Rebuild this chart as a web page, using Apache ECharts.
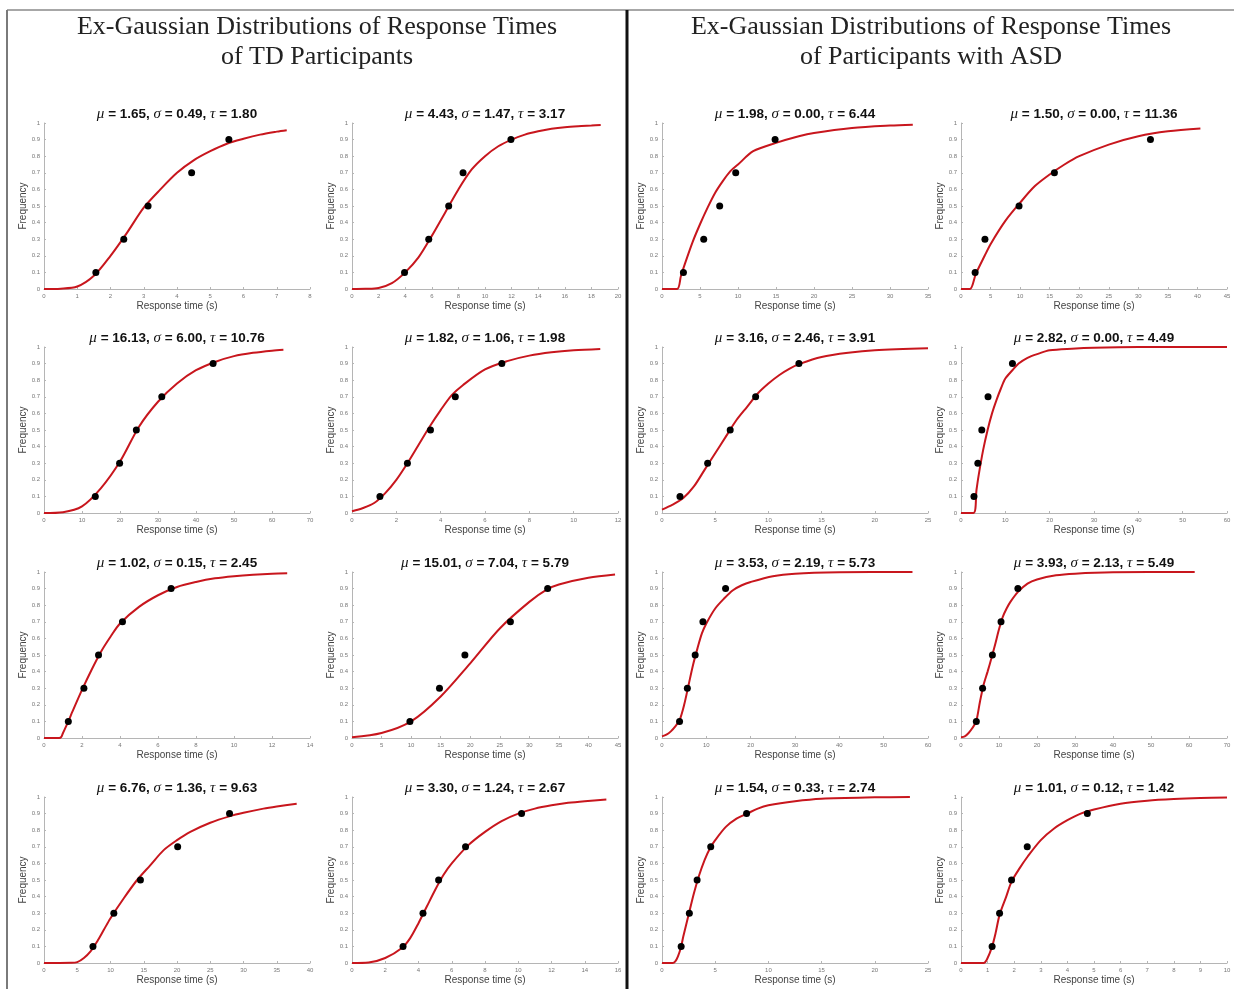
<!DOCTYPE html>
<html>
<head>
<meta charset="utf-8">
<script src="https://cdn.jsdelivr.net/npm/echarts@6/dist/echarts.min.js"></script>
<style>
  html, body { margin: 0; padding: 0; background: #fff; }
  #main { width: 1234px; height: 989px; }
</style>
</head>
<body>
<div id="main"></div>
<script>
// panel headings
var tdHeading = ['Ex-Gaussian Distributions of Response Times', 'of TD Participants'];
var asdHeading = ['Ex-Gaussian Distributions of Response Times', 'of Participants with ASD'];

// fitted parameters, TD 1-8 then ASD 1-8 (row by row)
var muVals = [1.65, 4.43, 16.13, 1.82, 1.02, 15.01, 6.76, 3.30, 1.98, 1.50, 3.16, 2.82, 3.53, 3.93, 1.54, 1.01];
var sigmaVals = [0.49, 1.47, 6.00, 1.06, 0.15, 7.04, 1.36, 1.24, 0.00, 0.00, 2.46, 0.00, 2.19, 2.13, 0.33, 0.12];
var tauVals = [1.80, 3.17, 10.76, 1.98, 2.45, 5.79, 9.63, 2.67, 6.44, 11.36, 3.91, 4.49, 5.73, 5.49, 2.74, 1.42];

// x axis range / tick step per subplot
var xMaxVals = [8, 20, 70, 12, 14, 45, 40, 16, 35, 45, 25, 60, 60, 70, 25, 10];
var xStepVals = [1, 2, 10, 2, 2, 5, 5, 2, 5, 5, 5, 10, 10, 10, 5, 1];

// observed quantiles (frequency levels) and their response times
var freqLevels = [0.1, 0.3, 0.5, 0.7, 0.9];
var obsTD1 = [1.56, 2.40, 3.13, 4.44, 5.56];
var obsTD2 = [3.95, 5.77, 7.27, 8.35, 11.95];
var obsTD3 = [13.5, 19.9, 24.3, 31.0, 44.5];
var obsTD4 = [1.26, 2.50, 3.54, 4.66, 6.76];
var obsTD5 = [1.28, 2.10, 2.87, 4.13, 6.69];
var obsTD6 = [9.8, 14.8, 19.1, 26.8, 33.1];
var obsTD7 = [7.36, 10.5, 14.5, 20.1, 27.9];
var obsTD8 = [3.07, 4.27, 5.21, 6.83, 10.2];
var obsASD1 = [2.82, 5.49, 7.59, 9.70, 14.88];
var obsASD2 = [2.39, 4.05, 9.82, 15.8, 32.05];
var obsASD3 = [1.69, 4.29, 6.41, 8.8, 12.87];
var obsASD4 = [2.92, 3.8, 4.69, 6.1, 11.6];
var obsASD5 = [3.96, 5.72, 7.48, 9.23, 14.34];
var obsASD6 = [4.03, 5.68, 8.26, 10.53, 14.97];
var obsASD7 = [1.8, 2.57, 3.3, 4.58, 7.95];
var obsASD8 = [1.17, 1.45, 1.9, 2.49, 4.75];

// fitted curves as [time, frequency]
var fitTD1 = [[0,0],[0.5,0.002],[1,0.015],[1.5,0.08],[2,0.2],[2.5,0.34],[3,0.49],[3.5,0.6],[4,0.7],[4.5,0.775],[5,0.83],[5.5,0.875],[6,0.905],[6.5,0.93],[7,0.948],[7.3,0.957]];
var fitTD2 = [[0,0],[1,0.001],[2,0.006],[3,0.035],[4,0.1],[5,0.19],[6,0.32],[7,0.46],[8,0.6],[9,0.72],[10,0.8],[11,0.86],[12,0.9],[13,0.93],[14,0.95],[15,0.965],[16,0.975],[17,0.981],[18,0.985],[18.7,0.988]];
var fitTD3 = [[0,0],[5,0.005],[10,0.04],[15,0.15],[20,0.31],[25,0.52],[30,0.67],[35,0.78],[40,0.86],[45,0.91],[50,0.945],[55,0.965],[60,0.978],[63,0.983]];
var fitTD4 = [[0,0.01],[0.5,0.03],[1,0.06],[1.5,0.12],[2,0.2],[2.5,0.3],[3,0.41],[3.5,0.52],[4,0.62],[4.5,0.71],[5,0.77],[6,0.865],[7,0.915],[8,0.948],[9,0.968],[10,0.98],[11.2,0.988]];
var fitTD5 = [[0,0],[0.8,0],[0.9,0.005],[1,0.03],[1.28,0.1],[1.5,0.16],[2,0.29],[2.5,0.41],[3,0.52],[3.5,0.61],[4,0.69],[5,0.79],[6,0.86],[7,0.91],[8,0.94],[9,0.962],[10,0.975],[11,0.984],[12,0.99],[12.8,0.992]];
var fitTD6 = [[0,0.005],[5,0.03],[10,0.1],[15,0.25],[20,0.45],[25,0.66],[30,0.82],[33,0.895],[35,0.925],[40,0.965],[44.5,0.985]];
var fitTD7 = [[0,0],[4,0.001],[5,0.005],[6,0.03],[7,0.07],[8,0.13],[9,0.2],[10,0.27],[12,0.39],[14,0.5],[16,0.59],[18,0.68],[20,0.74],[22,0.79],[25,0.845],[28,0.885],[30,0.905],[33,0.93],[35,0.943],[38,0.96]];
var fitTD8 = [[0,0],[1,0.003],[2,0.03],[3,0.09],[3.5,0.15],[4,0.24],[4.5,0.34],[5,0.44],[5.5,0.53],[6,0.6],[7,0.71],[8,0.79],[9,0.855],[10,0.9],[11,0.93],[12,0.95],[13,0.965],[14,0.975],[15.3,0.985]];
var fitASD1 = [[0,0],[1.98,0],[2.5,0.08],[3,0.15],[4,0.28],[5,0.39],[6,0.49],[7,0.58],[8,0.65],[9,0.71],[10,0.75],[12,0.83],[15,0.88],[18,0.92],[20,0.94],[25,0.97],[30,0.985],[33,0.99]];
var fitASD2 = [[0,0],[1.5,0],[2.5,0.09],[4,0.2],[5,0.27],[7.5,0.41],[10,0.52],[12.5,0.62],[15,0.69],[17.5,0.75],[20,0.8],[25,0.87],[30,0.92],[35,0.95],[40.5,0.967]];
var fitASD3 = [[0,0.02],[1,0.05],[2,0.09],[3,0.16],[4,0.26],[5,0.36],[6,0.46],[7,0.56],[8,0.64],[9,0.72],[10,0.78],[11,0.83],[12,0.87],[13,0.9],[15,0.94],[17.5,0.965],[20,0.98],[25,0.992]];
var fitASD4 = [[0,0],[2.82,0],[3.5,0.14],[4,0.23],[5,0.38],[6,0.5],[7,0.6],[8,0.68],[9,0.75],[10,0.81],[11.6,0.86],[13,0.9],[15,0.935],[17.5,0.96],[20,0.98],[25,0.99],[30,0.996],[40,1],[60,1]];
var fitASD5 = [[0,0.01],[1,0.02],[2,0.04],[3,0.07],[4,0.11],[5,0.2],[6,0.32],[7,0.44],[8,0.54],[9,0.63],[10,0.69],[12,0.78],[14,0.84],[16,0.89],[18,0.92],[20,0.94],[25,0.975],[30,0.99],[40,0.998],[56.5,1]];
var fitASD6 = [[0,0.005],[1,0.01],[2,0.03],[3,0.06],[4,0.1],[5,0.22],[6,0.325],[7,0.4],[8,0.48],[9,0.565],[10,0.655],[11,0.73],[12,0.78],[13,0.82],[15,0.88],[17.5,0.93],[20,0.955],[25,0.98],[30,0.99],[40,0.998],[61.5,1]];
var fitASD7 = [[0,0],[1,0],[1.25,0.01],[1.5,0.04],[1.8,0.1],[2,0.16],[2.5,0.29],[3,0.42],[3.5,0.53],[4,0.62],[4.5,0.69],[5,0.74],[6,0.82],[7,0.87],[8,0.9],[9,0.93],[10,0.95],[12.5,0.975],[15,0.99],[20,0.998],[23.3,1]];
var fitASD8 = [[0,0],[0.85,0],[1,0.03],[1.17,0.1],[1.3,0.18],[1.45,0.29],[1.7,0.4],[1.9,0.49],[2.2,0.57],[2.5,0.64],[3,0.74],[3.5,0.81],[4,0.86],[4.5,0.9],[5,0.925],[6,0.96],[7,0.978],[8,0.988],[9,0.994],[10,0.997]];

var obsList = [obsTD1, obsTD2, obsTD3, obsTD4, obsTD5, obsTD6, obsTD7, obsTD8,
  obsASD1, obsASD2, obsASD3, obsASD4, obsASD5, obsASD6, obsASD7, obsASD8];
var fitList = [fitTD1, fitTD2, fitTD3, fitTD4, fitTD5, fitTD6, fitTD7, fitTD8,
  fitASD1, fitASD2, fitASD3, fitASD4, fitASD5, fitASD6, fitASD7, fitASD8];

var myechart = echarts.init(document.getElementById('main'));

var colLeft = [44, 352, 662, 961];
var rowTop = [123, 347, 572, 797];
var plotW = 266, plotH = 166;
var sans = 'Liberation Sans, Arial, sans-serif';
var serif = 'Liberation Serif, Times New Roman, serif';

var grids = [], xAxes = [], yAxes = [], series = [], titles = [];

titles.push({
  text: tdHeading.join('\n'), left: 317, top: 12, textAlign: 'center', padding: 0,
  textStyle: { fontFamily: serif, fontSize: 26, fontWeight: 'normal', color: '#222', lineHeight: 30 }
});
titles.push({
  text: asdHeading.join('\n'), left: 931, top: 12, textAlign: 'center', padding: 0,
  textStyle: { fontFamily: serif, fontSize: 26, fontWeight: 'normal', color: '#222', lineHeight: 30 }
});

for (var i = 0; i < 16; i++) {
  var group = i < 8 ? 0 : 1;
  var k = i % 8;
  var row = Math.floor(k / 2);
  var col = group * 2 + (k % 2);
  var gLeft = colLeft[col], gTop = rowTop[row];

  grids.push({ left: gLeft, top: gTop, width: plotW, height: plotH });

  titles.push({
    text: '{g|\u03bc} = ' + muVals[i].toFixed(2) + ', {g|\u03c3} = ' + sigmaVals[i].toFixed(2) +
      ', {g|\u03c4} = ' + tauVals[i].toFixed(2),
    left: gLeft + plotW / 2, top: gTop - 16, textAlign: 'center', padding: 0,
    textStyle: {
      fontFamily: sans, fontSize: 13.5, fontWeight: 'bold', color: '#111',
      rich: { g: { fontFamily: serif, fontStyle: 'italic', fontSize: 15, fontWeight: 'normal', color: '#111' } }
    }
  });

  xAxes.push({
    gridIndex: i, type: 'value', min: 0, max: xMaxVals[i], interval: xStepVals[i],
    name: 'Response time (s)', nameLocation: 'middle', nameGap: 12,
    nameTextStyle: { fontFamily: sans, fontSize: 10, color: '#444' },
    axisLine: { lineStyle: { color: '#b5b5b5', width: 1 } },
    axisTick: { inside: true, length: 2, lineStyle: { color: '#b5b5b5' } },
    axisLabel: { fontFamily: sans, fontSize: 6, color: '#777', margin: 4 },
    splitLine: { show: false }
  });
  yAxes.push({
    gridIndex: i, type: 'value', min: 0, max: 1, interval: 0.1,
    name: 'Frequency', nameLocation: 'middle', nameGap: 11,
    nameTextStyle: { fontFamily: sans, fontSize: 10, color: '#444' },
    axisLine: { show: true, lineStyle: { color: '#b5b5b5', width: 1 } },
    axisTick: { show: true, inside: true, length: 2, lineStyle: { color: '#b5b5b5' } },
    axisLabel: {
      fontFamily: sans, fontSize: 6, color: '#777', margin: 4,
      formatter: function (v) { return (v === 0 || v === 1) ? String(v) : v.toFixed(1); }
    },
    splitLine: { show: false }
  });

  series.push({
    type: 'line', xAxisIndex: i, yAxisIndex: i, data: fitList[i],
    showSymbol: false, smooth: 0.3,
    lineStyle: { color: '#c8161d', width: 2 }, z: 2
  });
  series.push({
    type: 'scatter', xAxisIndex: i, yAxisIndex: i,
    data: obsList[i].map(function (x, j) { return [x, freqLevels[j]]; }),
    symbolSize: 7, itemStyle: { color: '#000', opacity: 1 }, z: 3
  });
}

myechart.setOption({
  animation: false,
  backgroundColor: '#fff',
  title: titles,
  grid: grids,
  xAxis: xAxes,
  yAxis: yAxes,
  series: series,
  graphic: [
    { type: 'line', shape: { x1: 7, y1: 10, x2: 1234, y2: 10 }, style: { stroke: '#8a8a8a', lineWidth: 1.5 } },
    { type: 'line', shape: { x1: 7, y1: 10, x2: 7, y2: 989 }, style: { stroke: '#7a7a7a', lineWidth: 2 } },
    { type: 'line', shape: { x1: 627, y1: 10, x2: 627, y2: 989 }, style: { stroke: '#111', lineWidth: 3 } }
  ]
});
window.onresize = function () { myechart.resize(); };
</script>
</body>
</html>
